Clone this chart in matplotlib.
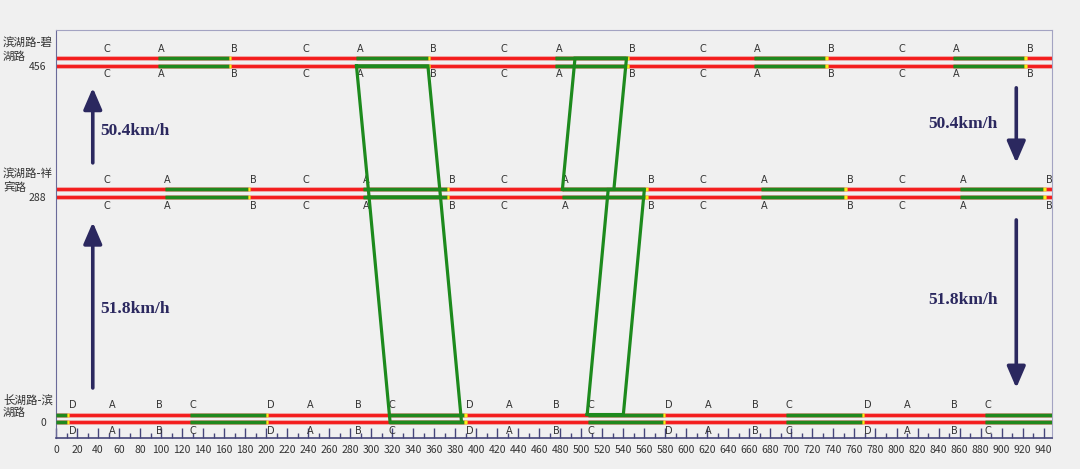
import matplotlib
matplotlib.use("Agg")
import matplotlib.pyplot as plt
from matplotlib.transforms import blended_transform_factory

plt.rcParams['font.family'] = ['Noto Sans CJK SC', 'DejaVu Sans']

# signal timing (seconds)
cycle = 189.25
x_max = 948
lane_gap = 10  # upper line = outbound lane

station_names = [['长湖路-滨', '湖路'], ['滨湖路-祥', '宾路'], ['滨湖路-碧', '湖路']]
positions = [0, 288, 456]
phase_labels = [['D', 'A', 'B', 'C'], ['C', 'A', 'B'], ['C', 'A', 'B']]
phase_starts = [[12, 50, 95, 127], [45, 103, 185], [45, 97, 167]]
green_start = [127.5, 103.3, 96.7]
green_end = [199.5, 182.5, 164.5]
yellow_end = [201.5, 185.0, 167.0]

# green bands: from position, to position, window at start, travel time
band_from = [456, 288, 0, 288]
band_to = [288, 0, 288, 456]
band_t0 = [286, 298, 505.6, 482]
band_t1 = [354, 366, 540, 531]
band_travel = [12, 20, 20, 12]
band_lane = [0, 0, lane_gap, lane_gap]

# speed arrows: x, y tail, y head, label, label x, label y
arrow_x = [35, 35, 914, 914]
arrow_tail = [44, 332, 428, 259]
arrow_head = [256, 428, 332, 44]
speed_text = ['51.8km/h', '50.4km/h', '50.4km/h', '51.8km/h']
speed_x = [42, 42, 830, 830]
speed_y = [145, 373, 382, 157]

RED = '#f41c1c'
GREEN = '#1d8a1d'
YELLOW = '#f5f516'
NAVY = '#2b285f'
BG = '#f0f0f0'

fig = plt.figure(figsize=(10.8, 4.69), dpi=100, facecolor=BG)
ax = fig.add_axes([56 / 1080, 31 / 469, 996 / 1080, 408 / 469])
ax.set_facecolor(BG)


def seg(x0, x1, y, color, z=2):
    ax.plot([x0, x1], [y, y], color=color, lw=3.6, alpha=0.35,
            solid_capstyle='butt', zorder=z)
    ax.plot([x0, x1], [y, y], color=color, lw=2.1,
            solid_capstyle='butt', zorder=z + 0.1)


for i, pos in enumerate(positions):
    for lane in (0, lane_gap):
        y = pos + lane
        seg(0, x_max, y, RED)
        for k in range(-1, 6):
            g0 = green_start[i] + k * cycle
            g1 = green_end[i] + k * cycle
            y1 = yellow_end[i] + k * cycle
            if g1 > 0 and g0 < x_max:
                seg(max(g0, 0), min(g1, x_max), y, GREEN, 3)
            if y1 > 0 and g1 < x_max:
                seg(max(g1, 0), min(y1, x_max), y, YELLOW, 4)
    # phase letters above the upper line and below the lower line
    for k in range(0, 6):
        for lab, st in zip(phase_labels[i], phase_starts[i]):
            t = st + k * cycle
            if 0 <= t <= x_max - 3:
                ax.annotate(lab, (t, pos + lane_gap), xytext=(0, 3), textcoords='offset points',
                            ha='left', va='bottom', fontsize=7, color='#333333',
                            family=['DejaVu Sans'])
                ax.annotate(lab, (t, pos), xytext=(0, -2.5), textcoords='offset points',
                            ha='left', va='top', fontsize=7, color='#333333',
                            family=['DejaVu Sans'])

# green wave bands
for f, t, a, b, tt, ln in zip(band_from, band_to, band_t0, band_t1, band_travel, band_lane):
    xs = [a, a + tt, b + tt, b, a]
    ys = [f + ln, t + ln, t + ln, f + ln, f + ln]
    ax.plot(xs, ys, color=GREEN, lw=2.3, zorder=6, solid_joinstyle='miter')

# speed arrows and labels
for x, y0, y1 in zip(arrow_x, arrow_tail, arrow_head):
    ax.annotate('', xy=(x, y1), xytext=(x, y0),
                arrowprops=dict(arrowstyle='-|>,head_length=0.65,head_width=0.28',
                                color=NAVY, lw=2.6, mutation_scale=20,
                                shrinkA=0, shrinkB=0))
for s, x, y in zip(speed_text, speed_x, speed_y):
    ax.text(x, y, s, ha='left', va='center', fontsize=12.5, fontweight='bold',
            family=['Liberation Serif'], color=NAVY)

# station names on the left
trans = blended_transform_factory(fig.transFigure, ax.transData)
for names, pos in zip(station_names, positions):
    ax.text(3 / 1080, pos + 29, names[0], transform=trans, ha='left', va='center',
            fontsize=8.3, color='#333333', clip_on=False)
    ax.text(3 / 1080, pos + 12.5, names[1], transform=trans, ha='left', va='center',
            fontsize=8.3, color='#333333', clip_on=False)

ax.set_xlim(0, x_max)
ax.set_ylim(-20, 502)
ax.set_xticks(range(0, 941, 20))
ax.set_xticks(range(10, 941, 20), minor=True)
ax.tick_params(axis='x', which='major', direction='in', length=7, width=1,
               color='#45457a', labelsize=7.5, labelcolor='#333333', pad=5)
ax.tick_params(axis='x', which='minor', direction='in', length=3.5, width=1,
               color='#45457a')
ax.set_yticks(positions)
ax.set_yticklabels([str(p) for p in positions])
ax.set_yticks([p + lane_gap for p in positions], minor=True)
ax.tick_params(axis='y', which='major', length=0, labelsize=7.5, labelcolor='#333333', pad=7)
ax.tick_params(axis='y', which='minor', direction='in', length=4, width=1, color='#45457a')

for side in ['top', 'right']:
    ax.spines[side].set_color('#a3a3c2')
ax.spines['left'].set_color('#6a6a99')
ax.spines['bottom'].set_color('#45457a')
ax.spines['bottom'].set_linewidth(1.2)

plt.savefig('out.png', dpi=100, facecolor=BG)
